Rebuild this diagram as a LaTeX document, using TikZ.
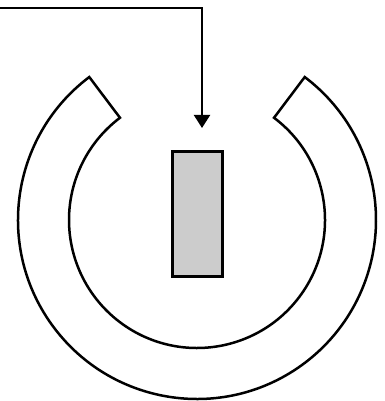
\documentclass[tikz,border=0pt]{standalone}
\usetikzlibrary{arrows.meta}

\definecolor{RodGrey}{RGB}{204,204,204}

\begin{document}
\begin{tikzpicture}[x=1pt, y=1pt,
    ring/.style={draw, line width=2.5pt, fill=white, line join=miter},
    rod/.style={draw, line width=3pt, fill=RodGrey, minimum width=50pt, minimum height=125pt, inner sep=0pt},
    feed/.style={-{Triangle[width=16pt,length=13pt]}, line width=2pt}]
                \useasboundingbox (0,0) rectangle (384,401);

                % Open ring with a gap at the top
                \begin{scope}[shift={(197,181)}]
                    \draw[ring] (127:179) arc[start angle=127, end angle=413, radius=179]
                        -- (53:128) arc[start angle=53, end angle=-233, radius=128] -- cycle;
                \end{scope}

                % Grey bar in the middle
                \node[rod] (bar) at (197.5,187) {};

                % Feed line from the left edge
                \coordinate (start) at (0,393);
                \coordinate (tip) at ([shift={(4.5,22)}]bar.north);
                \draw[feed] (start) -| (tip);
            \end{tikzpicture}
\end{document}
